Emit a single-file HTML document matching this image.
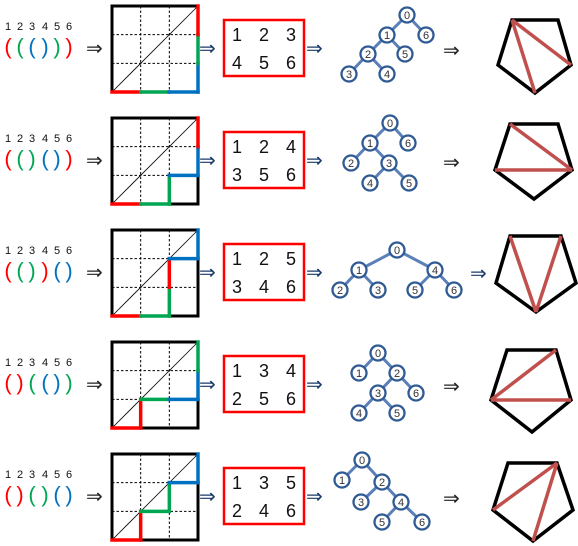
<!DOCTYPE html>
<html><head><meta charset="utf-8"><style>
html,body{margin:0;padding:0;background:#fff;}
svg{display:block;}
text{font-family:"Liberation Sans",sans-serif;}
</style></head><body>
<svg id="s" width="578" height="546" viewBox="0 0 578 546" xmlns="http://www.w3.org/2000/svg"></svg>
<script>
const S=document.getElementById('s');const NS='http://www.w3.org/2000/svg';
function el(t,a,txt){const e=document.createElementNS(NS,t);for(const k in a)e.setAttribute(k,a[k]);if(txt!==undefined)e.textContent=txt;S.appendChild(e);return e;}
const C={r:'#ff0000',g:'#00a651',b:'#0070c0'};
const rows=[
 {p:'((()))',c:'rgbbgr',m:[[1,2,3],[4,5,6]]},
 {p:'(()())',c:'rggbbr',m:[[1,2,4],[3,5,6]]},
 {p:'(())()',c:'rggrbb',m:[[1,2,5],[3,4,6]]},
 {p:'()(())',c:'rrgbbg',m:[[1,3,4],[2,5,6]]},
 {p:'()()()',c:'rrggbb',m:[[1,3,5],[2,4,6]]}
];
const px=[8,20,32,45,57,69];
const trees=[
 {n:[[407,15],[387,35],[368,54],[349,74],[387,74],[405,54],[426,35]],e:[[0,1],[0,6],[1,2],[1,5],[2,3],[2,4]],a:[443,50]},
 {n:[[390,123],[370,143],[351,163],[389,163],[370,183],[409,183],[408,143]],e:[[0,1],[0,6],[1,2],[1,3],[3,4],[3,5]],a:[443,162]},
 {n:[[397,250],[359,270],[340,290],[378,290],[435,270],[415,290],[454,290]],e:[[0,1],[0,4],[1,2],[1,3],[4,5],[4,6]],a:[470,273]},
 {n:[[378,353],[359,373],[397,373],[378,393],[359,413],[397,413],[416,393]],e:[[0,1],[0,2],[2,3],[2,6],[3,4],[3,5]],a:[443,386]},
 {n:[[362,460],[342,480],[382,482],[361,502],[401,502],[382,522],[422,522]],e:[[0,1],[0,2],[2,3],[2,4],[4,5],[4,6]],a:[443,498]}
];
const pents=[
 {v:[[512,20],[558,20],[571,65],[535,93],[498,65]],d:[[0,3],[0,2]]},
 {v:[[510,124],[558,124],[572,170],[534,199],[495,170]],d:[[0,2],[4,2]]},
 {v:[[510,236],[561,236],[576,283],[536,312],[496,283]],d:[[0,3],[1,3]]},
 {v:[[507,350],[556,350],[571,400],[532,432],[491,400]],d:[[4,1],[4,2]]},
 {v:[[508,463],[557,463],[573,510],[533,541],[493,510]],d:[[4,1],[3,1]]}
];
function arrow(x,y,col){el('text',{x:x,y:y+7,'font-size':20,fill:col||'#222'},'⇒');}
rows.forEach((r,i)=>{
 const dy=i*112;
 for(let k=0;k<6;k++){
  el('text',{x:px[k],y:30+dy,'font-size':11,'text-anchor':'middle',fill:'#111'},String(k+1));
  el('text',{x:px[k],y:54+dy,'font-size':22,'text-anchor':'middle',fill:C[r.c[k]]},r.p[k]);
 }
 arrow(86,48+dy);
 const gx=112,gy=6+dy,s=86,c=s/3;
 for(let k=1;k<3;k++){
  el('line',{x1:gx+k*c,y1:gy,x2:gx+k*c,y2:gy+s,stroke:'#000','stroke-width':1,'stroke-dasharray':'2.5,2'});
  el('line',{x1:gx,y1:gy+k*c,x2:gx+s,y2:gy+k*c,stroke:'#000','stroke-width':1,'stroke-dasharray':'2.5,2'});
 }
 el('line',{x1:gx,y1:gy+s,x2:gx+s,y2:gy,stroke:'#000','stroke-width':0.8});
 el('rect',{x:gx,y:gy,width:s,height:s,fill:'none',stroke:'#000','stroke-width':3});
 let x=gx,y=gy+s;
 for(let k=0;k<6;k++){
  let nx=x,ny=y;if(r.p[k]=='(')nx=x+c;else ny=y-c;
  el('line',{x1:x,y1:y,x2:nx,y2:ny,stroke:C[r.c[k]],'stroke-width':3.5,'stroke-linecap':'square'});
  x=nx;y=ny;
 }
 arrow(199,48+dy,'#1a3a6a');
 el('rect',{x:224,y:20+dy,width:80,height:56,fill:'#fff',stroke:'#ff0000','stroke-width':2.5});
 r.m.forEach((row,ri)=>row.forEach((v,ci)=>el('text',{x:237+ci*27,y:41+ri*28+dy,'font-size':18,'text-anchor':'middle',fill:'#111'},String(v))));
 arrow(306,48+dy,'#1a3a6a');
 const t=trees[i];
 t.e.forEach(([a,b])=>el('line',{x1:t.n[a][0],y1:t.n[a][1],x2:t.n[b][0],y2:t.n[b][1],stroke:'#5b7fb8','stroke-width':3}));
 t.n.forEach((p,k)=>{el('circle',{cx:p[0],cy:p[1],r:7.5,fill:'#fff',stroke:'#2f5a94','stroke-width':2.3});
  el('text',{x:p[0],y:p[1]+4,'font-size':11,'text-anchor':'middle',fill:'#333'},String(k));});
 arrow(t.a[0],t.a[1],i==2?'#1a3a6a':'#222');
 const P=pents[i];
 el('polygon',{points:P.v.map(p=>p.join(',')).join(' '),fill:'none',stroke:'#000','stroke-width':3.5,'stroke-linejoin':'miter'});
 P.d.forEach(([a,b])=>el('line',{x1:P.v[a][0],y1:P.v[a][1],x2:P.v[b][0],y2:P.v[b][1],stroke:'#c0504d','stroke-width':3.5}));
});
</script>
</body></html>
